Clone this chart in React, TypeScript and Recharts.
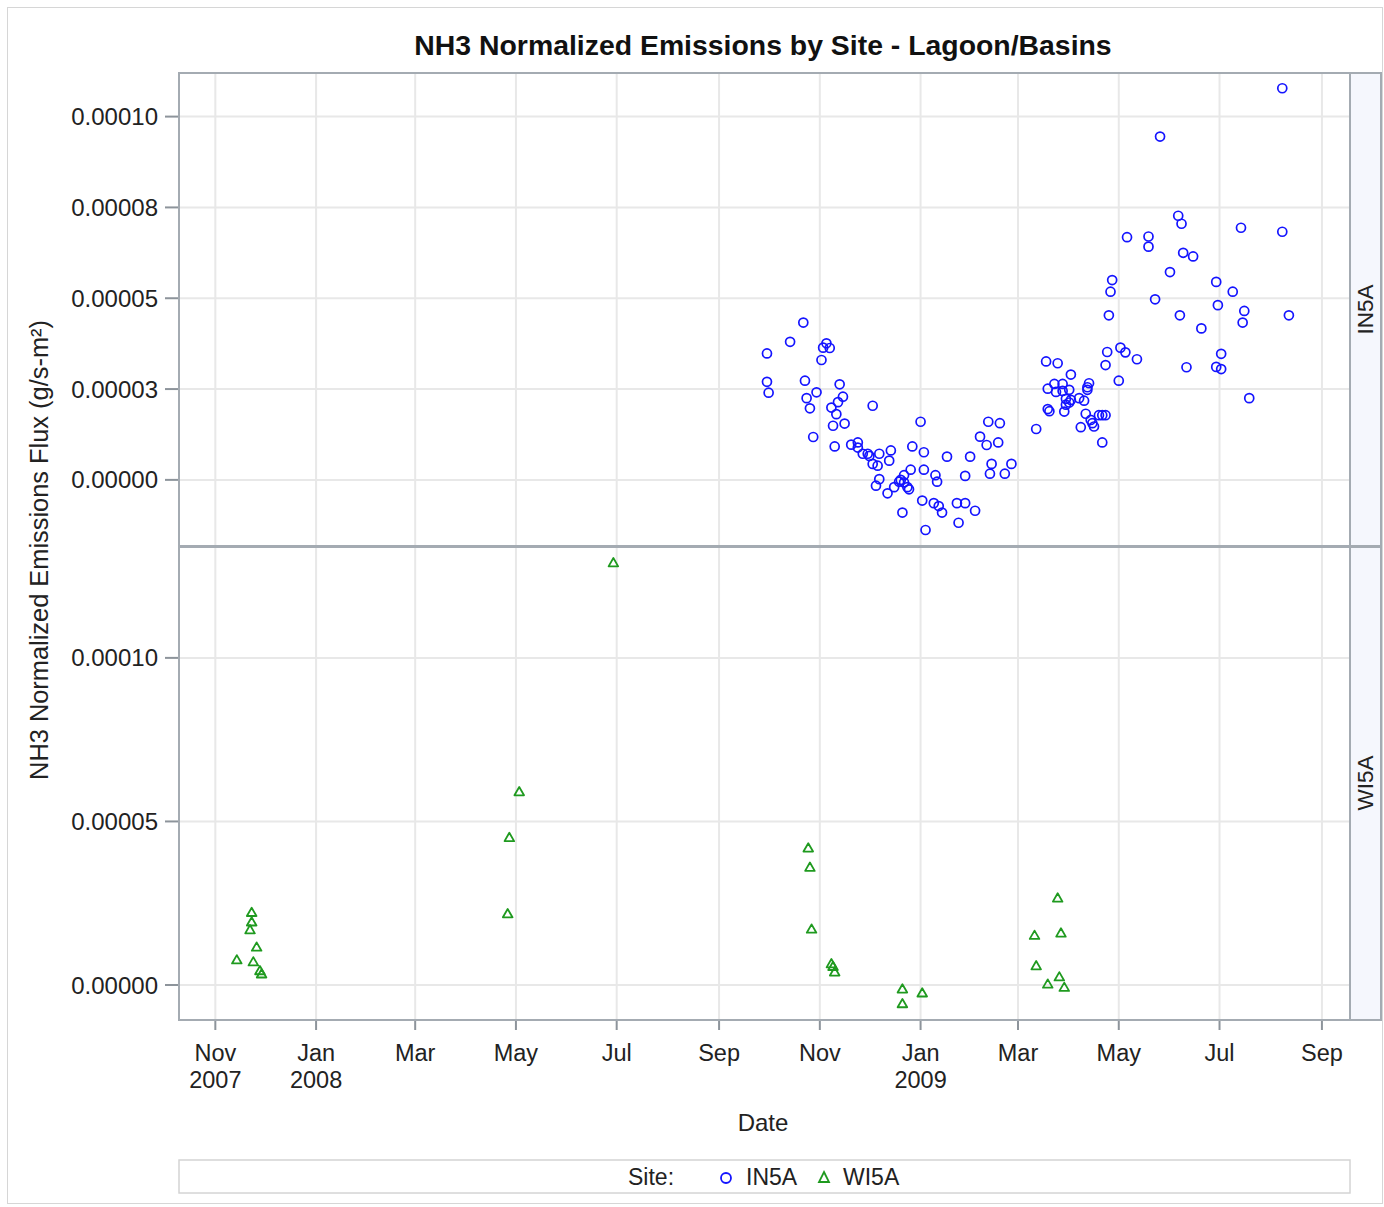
import React from "react";
import { ScatterChart, Scatter, XAxis, YAxis, CartesianGrid } from "recharts";

const W = 1384;
const H = 1207;
const FONT = "'Liberation Sans', Arial, sans-serif";
const BLUE = "#1414ff";
const GREEN = "#1f9a1f";
const FRAME = "#a4abb2";

// flux values are in units of 1e-5 g/s-m2
const IN5A: [string, number][] = [
  ["2008-09-30", 3.48], ["2008-09-30", 2.70], ["2008-10-01", 2.40], ["2008-10-14", 3.80],
  ["2008-10-22", 4.33], ["2008-10-23", 2.73], ["2008-10-24", 2.25], ["2008-10-26", 1.97],
  ["2008-10-28", 1.18], ["2008-10-30", 2.41], ["2008-11-02", 3.30], ["2008-11-03", 3.64],
  ["2008-11-05", 3.76], ["2008-11-07", 3.63], ["2008-11-08", 1.99], ["2008-11-09", 1.49],
  ["2008-11-10", 0.92], ["2008-11-11", 1.81], ["2008-11-12", 2.14], ["2008-11-13", 2.63],
  ["2008-11-15", 2.29], ["2008-11-16", 1.55], ["2008-11-20", 0.97], ["2008-11-24", 1.03],
  ["2008-11-24", 0.89], ["2008-11-27", 0.72], ["2008-11-30", 0.72], ["2008-12-01", 0.66],
  ["2008-12-03", 2.04], ["2008-12-03", 0.44], ["2008-12-05", -0.16], ["2008-12-06", 0.39],
  ["2008-12-07", 0.72], ["2008-12-07", 0.02], ["2008-12-12", -0.37], ["2008-12-13", 0.53],
  ["2008-12-14", 0.81], ["2008-12-16", -0.20], ["2008-12-19", -0.05], ["2008-12-20", 0.00],
  ["2008-12-21", -0.90], ["2008-12-22", 0.13], ["2008-12-22", -0.07], ["2008-12-24", -0.20],
  ["2008-12-25", -0.26], ["2008-12-26", 0.28], ["2008-12-27", 0.92], ["2009-01-01", 1.60],
  ["2009-01-02", -0.57], ["2009-01-03", 0.76], ["2009-01-03", 0.28], ["2009-01-04", -1.38],
  ["2009-01-09", -0.64], ["2009-01-10", 0.13], ["2009-01-11", -0.05], ["2009-01-12", -0.72],
  ["2009-01-14", -0.90], ["2009-01-17", 0.64], ["2009-01-23", -0.64], ["2009-01-24", -1.18],
  ["2009-01-28", 0.11], ["2009-01-28", -0.64], ["2009-01-31", 0.64], ["2009-02-03", -0.85],
  ["2009-02-06", 1.19], ["2009-02-10", 0.96], ["2009-02-11", 1.60], ["2009-02-12", 0.17],
  ["2009-02-13", 0.44], ["2009-02-17", 1.03], ["2009-02-18", 1.56], ["2009-02-21", 0.17],
  ["2009-02-25", 0.44], ["2009-03-12", 1.40], ["2009-03-18", 3.26], ["2009-03-19", 2.51],
  ["2009-03-19", 1.95], ["2009-03-20", 1.89], ["2009-03-23", 2.64], ["2009-03-24", 2.42],
  ["2009-03-25", 3.21], ["2009-03-28", 2.64], ["2009-03-28", 2.45], ["2009-03-29", 1.88],
  ["2009-03-30", 2.23], ["2009-03-30", 2.07], ["2009-04-01", 2.48], ["2009-04-01", 2.13],
  ["2009-04-02", 2.90], ["2009-04-02", 2.20], ["2009-04-07", 2.25], ["2009-04-08", 1.45],
  ["2009-04-10", 2.18], ["2009-04-11", 1.82], ["2009-04-12", 2.55], ["2009-04-12", 2.48],
  ["2009-04-13", 2.66], ["2009-04-14", 1.65], ["2009-04-15", 1.56], ["2009-04-16", 1.47],
  ["2009-04-19", 1.78], ["2009-04-21", 1.78], ["2009-04-21", 1.03], ["2009-04-23", 3.16],
  ["2009-04-23", 1.78], ["2009-04-24", 3.52], ["2009-04-25", 4.53], ["2009-04-26", 5.18],
  ["2009-04-27", 5.50], ["2009-05-01", 2.73], ["2009-05-02", 3.64], ["2009-05-05", 3.51],
  ["2009-05-06", 6.68], ["2009-05-12", 3.32], ["2009-05-19", 6.70], ["2009-05-19", 6.42],
  ["2009-05-23", 4.97], ["2009-05-26", 9.45], ["2009-06-01", 5.72], ["2009-06-06", 7.27],
  ["2009-06-07", 4.53], ["2009-06-08", 7.05], ["2009-06-09", 6.25], ["2009-06-11", 3.10],
  ["2009-06-15", 6.15], ["2009-06-20", 4.17], ["2009-06-29", 5.45], ["2009-06-29", 3.11],
  ["2009-06-30", 4.81], ["2009-07-02", 3.47], ["2009-07-02", 3.05], ["2009-07-09", 5.18],
  ["2009-07-14", 6.94], ["2009-07-15", 4.33], ["2009-07-16", 4.65], ["2009-07-19", 2.25],
  ["2009-08-08", 10.78], ["2009-08-08", 6.83], ["2009-08-12", 4.53],
];

const WI5A: [string, number][] = [
  ["2007-11-14", 0.76], ["2007-11-22", 1.68], ["2007-11-23", 2.21], ["2007-11-23", 1.92],
  ["2007-11-24", 0.70], ["2007-11-26", 1.15], ["2007-11-28", 0.43], ["2007-11-29", 0.33],
  ["2008-04-26", 2.17], ["2008-04-27", 4.50], ["2008-05-03", 5.90], ["2008-06-29", 12.90],
  ["2008-10-25", 4.18], ["2008-10-26", 3.59], ["2008-10-27", 1.70], ["2008-11-08", 0.64],
  ["2008-11-09", 0.56], ["2008-11-10", 0.39], ["2008-12-21", -0.13], ["2008-12-21", -0.58],
  ["2009-01-02", -0.25], ["2009-03-11", 1.51], ["2009-03-12", 0.58], ["2009-03-19", 0.02],
  ["2009-03-25", 2.65], ["2009-03-26", 0.24], ["2009-03-27", 1.58], ["2009-03-29", -0.08],
];

const MONTH_TICKS = [
  "2007-11-01", "2008-01-01", "2008-03-01", "2008-05-01", "2008-07-01", "2008-09-01",
  "2008-11-01", "2009-01-01", "2009-03-01", "2009-05-01", "2009-07-01", "2009-09-01",
];
const MONTH_LABELS = ["Nov", "Jan", "Mar", "May", "Jul", "Sep", "Nov", "Jan", "Mar", "May", "Jul", "Sep"];
const YEAR_LABELS = ["2007", "2008", "", "", "", "", "", "2009", "", "", "", ""];

const TOP_TICKS = [0, 2.5, 5, 7.5, 10];
const TOP_TICK_LABELS = ["0.00000", "0.00003", "0.00005", "0.00008", "0.00010"];
const BOTTOM_TICKS = [0, 5, 10];
const BOTTOM_TICK_LABELS = ["0.00000", "0.00005", "0.00010"];

const day = (s: string) =>
  Date.UTC(+s.slice(0, 4), +s.slice(5, 7) - 1, +s.slice(8, 10)) / 86400000;

const X_DOMAIN = [day("2007-10-10"), day("2009-09-18")];
const TICK_DAYS = MONTH_TICKS.map(day);

const in5aData = IN5A.map(([d, v]) => ({ x: day(d), y: v }));
const wi5aData = WI5A.map(([d, v]) => ({ x: day(d), y: v }));

const PLOT_LEFT = 179;
const PLOT_RIGHT = 1350;
const STRIP_RIGHT = 1381;
const TOP_Y0 = 73;
const TOP_Y1 = 546;
const BOT_Y1 = 1020;

const CircleMark = (p: any) => (
  <circle cx={p.cx} cy={p.cy} r={4.5} fill="none" stroke={BLUE} strokeWidth={1.7} />
);
const TriMark = (p: any) => (
  <path
    d={`M${p.cx},${p.cy - 5}L${p.cx + 4.8},${p.cy + 3.3}L${p.cx - 4.8},${p.cy + 3.3}Z`}
    fill="none"
    stroke={GREEN}
    strokeWidth={1.8}
    strokeLinejoin="round"
  />
);

const XTick = ({ x, y, payload }: any) => {
  const i = TICK_DAYS.indexOf(payload.value);
  return (
    <g>
      <text x={x} y={y + 28} textAnchor="middle" fontSize={23.5} fontFamily={FONT} fill="#222">
        {MONTH_LABELS[i]}
      </text>
      {YEAR_LABELS[i] && (
        <text x={x} y={y + 55} textAnchor="middle" fontSize={23.5} fontFamily={FONT} fill="#222">
          {YEAR_LABELS[i]}
        </text>
      )}
    </g>
  );
};

const yTickStyle = { fill: "#222", fontSize: 24, fontFamily: FONT };

export default function App() {
  return (
    <div style={{ position: "absolute", left: 0, top: 0, width: W, height: H, background: "#fff" }}>
      <div style={{ position: "absolute", left: 0, top: 0 }}>
        <ScatterChart
          width={W}
          height={H}
          margin={{ top: TOP_Y0, right: W - PLOT_RIGHT, bottom: H - TOP_Y1, left: PLOT_LEFT - 100 }}
        >
          <CartesianGrid stroke="#e8e8e8" strokeWidth={2} />
          <XAxis
            type="number"
            dataKey="x"
            domain={X_DOMAIN}
            ticks={TICK_DAYS}
            allowDataOverflow
            hide
          />
          <YAxis
            type="number"
            dataKey="y"
            domain={[-1.82, 11.2]}
            ticks={TOP_TICKS}
            allowDataOverflow
            width={100}
            axisLine={false}
            tickSize={14}
            tickMargin={7}
            tickLine={{ stroke: "#8d949b", strokeWidth: 2 }}
            tick={yTickStyle}
            tickFormatter={(v: number) => TOP_TICK_LABELS[TOP_TICKS.indexOf(v)]}
          />
          <Scatter data={in5aData} shape={CircleMark} isAnimationActive={false} />
        </ScatterChart>
      </div>
      <div style={{ position: "absolute", left: 0, top: 0 }}>
        <ScatterChart
          width={W}
          height={H}
          margin={{ top: TOP_Y1 + 1, right: W - PLOT_RIGHT, bottom: H - BOT_Y1 - 90, left: PLOT_LEFT - 100 }}
        >
          <CartesianGrid stroke="#e8e8e8" strokeWidth={2} />
          <XAxis
            type="number"
            dataKey="x"
            domain={X_DOMAIN}
            ticks={TICK_DAYS}
            allowDataOverflow
            height={90}
            axisLine={false}
            tickSize={10}
            tickMargin={3}
            tickLine={{ stroke: "#8d949b", strokeWidth: 2 }}
            tick={<XTick />}
          />
          <YAxis
            type="number"
            dataKey="y"
            domain={[-1.07, 13.39]}
            ticks={BOTTOM_TICKS}
            allowDataOverflow
            width={100}
            axisLine={false}
            tickSize={14}
            tickMargin={7}
            tickLine={{ stroke: "#8d949b", strokeWidth: 2 }}
            tick={yTickStyle}
            tickFormatter={(v: number) => BOTTOM_TICK_LABELS[BOTTOM_TICKS.indexOf(v)]}
          />
          <Scatter data={wi5aData} shape={TriMark} isAnimationActive={false} />
        </ScatterChart>
      </div>
      <svg
        width={W}
        height={H}
        style={{ position: "absolute", left: 0, top: 0, pointerEvents: "none" }}
        fontFamily={FONT}
      >
        <rect x={7.5} y={7.5} width={1375} height={1196} fill="none" stroke="#d6d6d6" />
        <text x={763} y={55} textAnchor="middle" fontSize={28.4} fontWeight="bold" fill="#111">
          NH3 Normalized Emissions by Site - Lagoon/Basins
        </text>
        {/* strips */}
        <rect x={PLOT_RIGHT} y={TOP_Y0} width={STRIP_RIGHT - PLOT_RIGHT} height={BOT_Y1 - TOP_Y0} fill="#f5f7fd" />
        <text
          transform={`translate(1373,${(TOP_Y0 + TOP_Y1) / 2}) rotate(-90)`}
          textAnchor="middle"
          fontSize={22.5}
          fill="#222"
        >
          IN5A
        </text>
        <text
          transform={`translate(1373,${(TOP_Y1 + BOT_Y1) / 2}) rotate(-90)`}
          textAnchor="middle"
          fontSize={22.5}
          fill="#222"
        >
          WI5A
        </text>
        {/* frames */}
        <rect x={PLOT_LEFT} y={TOP_Y0} width={STRIP_RIGHT - PLOT_LEFT} height={BOT_Y1 - TOP_Y0} fill="none" stroke={FRAME} strokeWidth={2} />
        <line x1={PLOT_RIGHT} x2={PLOT_RIGHT} y1={TOP_Y0} y2={BOT_Y1} stroke={FRAME} strokeWidth={2} />
        <line x1={PLOT_LEFT} x2={STRIP_RIGHT} y1={546.5} y2={546.5} stroke={FRAME} strokeWidth={3} />
        {/* axis titles */}
        <text transform="translate(48,550) rotate(-90)" textAnchor="middle" fontSize={25.4} fill="#222">
          NH3 Normalized Emissions Flux (g/s-m²)
        </text>
        <text x={763} y={1131} textAnchor="middle" fontSize={24} fill="#222">
          Date
        </text>
        {/* legend */}
        <rect x={PLOT_LEFT} y={1160} width={PLOT_RIGHT - PLOT_LEFT} height={33} fill="none" stroke="#d4d4d4" strokeWidth={1.5} />
        <text x={628} y={1185} fontSize={23} fill="#222">Site:</text>
        <circle cx={726} cy={1178} r={5} fill="none" stroke={BLUE} strokeWidth={1.8} />
        <text x={746} y={1185} fontSize={23} fill="#222">IN5A</text>
        <path d="M824,1172L829,1182L819,1182Z" fill="none" stroke={GREEN} strokeWidth={1.8} />
        <text x={843} y={1185} fontSize={23} fill="#222">WI5A</text>
      </svg>
    </div>
  );
}
